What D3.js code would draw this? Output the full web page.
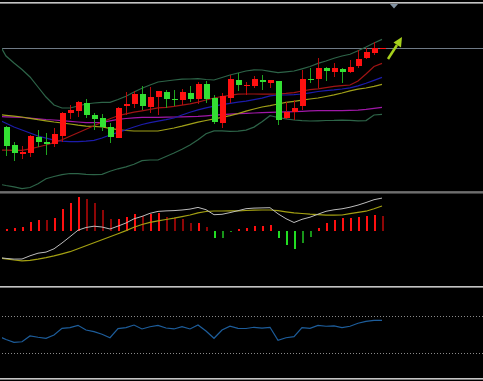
<!DOCTYPE html>
<html><head><meta charset="utf-8">
<script src="https://cdn.jsdelivr.net/npm/d3@7"></script>
<style>html,body{margin:0;padding:0;background:#000;overflow:hidden}</style>
</head><body><svg id="c" width="483" height="381"></svg>
<script>
// ---- price candles (48 bars) ----
const opens  = [73.3,54.7,46.5,47.3,63.3,58.5,55.7,64.5,87.3,89.3,97,85.3,81.7,73.3,62.5,94.5,95.7,105.8,92.8,103.2,107.7,101.3,99.8,107.3,101.2,115.7,101.7,77.3,101.7,120,114,114,120,117.3,118.8,82.2,87.7,94,121.2,120.7,132.5,128.3,131.5,128.2,134.5,142.5,147.3,151.4];
const highs  = [74.5,58.5,54,65,70,66.7,72,88.5,95,99.5,101.5,87.5,86,77.5,93,108.3,109,114,113,109.5,110.5,110.5,110.8,113.7,118,118.7,105,106.7,125,127,118.3,124.2,125.5,120.5,119.5,98.3,99.7,130,131.7,141.7,133,136.7,132.5,140.3,150,151.7,158.3,152.2];
const lows   = [44.5,39.3,40.7,43,53.3,45,53,58,81.2,83.3,81.7,70,69,56.7,62,85,91.7,90,87,85,91.7,94,95,98.3,96,97,76.3,72.5,97.3,109.3,105.3,112.2,110,112.5,75,81,80.3,90,117,111.7,119.5,123.3,117.5,127.5,132.5,141,145,151.4];
const closes = [54.5,46.7,48.3,64,58.2,55.7,66,87.5,90.3,98.2,85,81.5,73,63,92.3,96,106.5,94,103.3,108.8,101.2,100,108.3,101.3,115.7,101,78.2,104,120.8,114.7,114.7,120.7,117.8,120,80.3,88.3,92.3,121.3,120,132,128.7,131.7,127.7,133.3,140.8,147.6,152.5,152.2];

// ---- overlay lines (49 values: one bar before the first visible candle, then 48) ----
const bbUpper = [158,144,137,130.5,123,113,103,95,92,92,94,96,97,97.7,97.7,100.5,103.7,108,111.7,115,118,119,120,120.8,121,121.3,120.5,120,122.5,125,127,129,130.2,130,128.7,127.4,128.2,129,131.2,133.5,136.6,139,141.8,144,145.7,149.3,153,157,160.6];
const bbLower = [16,14.5,13.2,11.3,12.5,16.2,21.3,23.5,25.3,26.5,26.3,25.7,25.3,25.7,28.7,31.2,33.1,35.8,39.4,40,40,43.5,47,50.8,55,60.2,66.2,69.1,69.2,68.6,68.9,69.9,72.9,78.3,84.3,82.5,81.2,80,79.3,79,79.2,79.5,79.6,79.9,79.6,79.2,79.4,85,85.7];
const bbMiddle = [80.5,76.8,73,70,67,64,61.8,59.9,58.9,58.3,58.3,58.9,59.7,62,65,67.6,70.2,73,75.5,77.3,78.8,80.3,82,85,87.7,90.1,92.2,93.8,95.3,96.7,97.9,98.9,100.3,101.8,104.1,105,105,105.4,106,107.2,108.5,109.4,110.1,111,112.2,114.1,116.7,119.6,122.6];
const maFast = [50,49.9,49.6,49.6,51.1,53,55,57.4,60.2,63.7,67.3,70.8,74.3,77.9,81.2,84.3,86.2,87.8,89.2,90.6,92.1,92.7,93.6,94.9,96.2,97.9,100,102,103.5,104.7,105.8,106,106,105.8,105.8,106,106.6,107.4,109,110.3,111.2,112.4,113.6,114.4,115,119,126,133.5,136.6];
const maSlow = [85.5,84.7,83.9,83,81.6,80.3,79.2,78,77,76,74.8,73.9,73.6,73,71.7,70.3,69.5,69,69,69,69,70.5,72,73.8,75.8,77.8,79.5,81.1,82.7,84.3,86.4,88.8,91,93,94.4,96,97.6,98.7,99.8,101,102,103.5,105.1,107,109.1,110.8,112,113.7,115.6];
const maLong = [83.5,83.2,82.9,82.5,81.8,81.2,80.5,80,79.4,78.7,78,77.4,77.3,77.7,79.2,80.7,81.5,82.2,82.7,82.7,82.7,82.8,83,83.1,83.3,83.6,84.2,84.8,85.4,85.8,86.3,86.6,87,87.4,87.6,87.9,88.1,88.3,88.7,89.1,89.4,89.4,89.3,89.4,89.6,89.9,90.6,91.6,92.7];

// ---- MACD panel ----
const macdHist = [1.7,2.4,3.4,8.7,10.7,10.4,12.7,21.4,27.4,33.4,31.4,27.4,20.7,11.4,12,13.4,16.7,14.7,16.7,18,14,12.7,11.4,7.4,8,4,-7.6,-7,-1,1.7,3,4.5,4.8,6,-7.6,-14.3,-18.6,-12,-6,2.4,7.4,10.7,12.4,13,14,15,15.7,15];
const macdMain = [-26.8,-27.7,-28.4,-28.3,-25.1,-22.5,-21.4,-18.1,-12.3,-6,0.5,3.2,4.5,3.7,1.7,4.6,7.7,11.9,14.3,17.4,19.3,19.8,20.1,20.7,21.6,23.3,21,16,16.4,18.1,20,22,22.6,22.8,23,16.9,12,8.2,11.4,13.5,16.5,19.4,20.9,21.9,23.5,25.6,28.2,31,32.6];
const macdSignal = [-27.3,-28.1,-29.3,-30.2,-29.6,-28.4,-26.9,-25.2,-23.1,-21,-18,-15,-12,-9,-6,-3,0.1,3.5,6.2,8.4,9.8,11.2,12.5,14.1,15.7,17.9,19.2,19.7,19.7,19.8,19.9,20.2,20.5,20.7,20.7,20.1,18.9,17.8,17.2,16.5,16,15.5,15.6,15.7,17.1,18.4,19.5,21.9,24.7];

// ---- RSI panel ----
const rsiValues = [48.6,44.8,41.8,42.4,48.6,47.2,46.1,49.6,56.8,57.5,60,55,53.2,50.4,46.7,56.4,57.5,60.3,56.1,58.5,60,57.1,56.1,58.5,56.1,60.3,53.9,46.1,55,59,56.8,56.6,57.9,57.1,57.9,43.9,46.7,47.8,57.5,56.8,60,59,59.3,57.5,59,62.2,64.3,65.4,65.4];
const rsiLevels = [70, 30];

const W = 483, H = 381;
const svg = d3.select("#c");
svg.append("rect").attr("width", W).attr("height", H).attr("fill", "#000");

const x  = d3.scaleLinear().domain([0, 47]).range([6, 382]);
const yP = d3.scaleLinear().domain([0, 200]).range([200, 0]);
const yM = d3.scaleLinear().domain([-55, 37]).range([285.7, 193.7]);
const yR = d3.scaleLinear().domain([0, 100]).range([381.3, 288]);

const defs = svg.append("defs");
function clip(id, y0, y1) {
  defs.append("clipPath").attr("id", id).append("rect")
    .attr("x", 2).attr("y", y0).attr("width", W - 2).attr("height", y1 - y0);
  return svg.append("g").attr("clip-path", `url(#${id})`);
}
const gMain = clip("cm", 4, 191);
const gMacd = clip("cd", 194, 286);
const gRsi  = clip("cr", 288, 378);

// ---- main panel ----
const lastClose = closes[closes.length - 1];
gMain.append("line").attr("x1", 0).attr("x2", W)
  .attr("y1", Math.round(yP(lastClose)) + 0.5).attr("y2", Math.round(yP(lastClose)) + 0.5)
  .attr("stroke", "#6f7a86").attr("stroke-width", 1);

const lineP = d3.line().x((d, i) => x(i - 1)).y(d => yP(d));
const overlays = [
  [bbUpper, "#2d6448"], [bbLower, "#2d6448"],
  [maLong, "#a018a8"], [maSlow, "#a0a018"], [bbMiddle, "#1c1caa"], [maFast, "#a01414"]
];
overlays.forEach(([data, col]) => {
  gMain.append("path").datum(data).attr("d", lineP)
    .attr("fill", "none").attr("stroke", col).attr("stroke-width", 1.2);
});

const candles = opens.map((o, i) => ({ i, o, h: highs[i], l: lows[i], c: closes[i] }));
const cg = gMain.append("g").attr("shape-rendering", "crispEdges");
cg.selectAll("rect.wick").data(candles).join("rect")
  .attr("class", "wick")
  .attr("x", d => Math.round(x(d.i)))
  .attr("width", 1)
  .attr("y", d => yP(d.h))
  .attr("height", d => yP(d.l) - yP(d.h))
  .attr("fill", d => d.c >= d.o ? "#b80a0a" : "#1fa51f");
cg.selectAll("rect.body").data(candles).join("rect")
  .attr("class", "body")
  .attr("x", d => Math.round(x(d.i)) - 2.5)
  .attr("width", 6)
  .attr("y", d => yP(Math.max(d.o, d.c)))
  .attr("height", d => Math.max(1, Math.abs(yP(d.o) - yP(d.c))))
  .attr("fill", d => d.c >= d.o ? "#ff1111" : "#33e033");

// arrow annotation
svg.append("line").attr("x1", 388).attr("y1", 59).attr("x2", 397).attr("y2", 45)
  .attr("stroke", "#a6d01c").attr("stroke-width", 2.5);
svg.append("path").attr("d", "M402,37 L393.5,42.5 L401,47.5 Z").attr("fill", "#a6d01c");

// top marker triangle
svg.append("path").attr("d", "M390,4 L398,4 L394,8.5 Z").attr("fill", "#8393a3");

// ---- MACD panel ----
gMacd.append("g").attr("shape-rendering", "crispEdges")
  .selectAll("rect").data(macdHist).join("rect")
  .attr("x", (d, i) => Math.round(x(i)) - 0.5)
  .attr("width", 2)
  .attr("y", d => yM(Math.max(0, d)))
  .attr("height", d => Math.max(1, Math.abs(yM(d) - yM(0))))
  .attr("fill", (d, i) => {
    const prev = i > 0 ? macdHist[i - 1] : 0;
    if (d >= 0) return (d >= prev || prev < 0) ? "#ff1010" : "#8e0606";
    return (d <= prev || prev > 0) ? "#22dd22" : "#18951a";
  });
const lineM = d3.line().x((d, i) => x(i - 1)).y(d => yM(d));
gMacd.append("path").datum(macdSignal).attr("d", lineM)
  .attr("fill", "none").attr("stroke", "#a3a012").attr("stroke-width", 1.2);
gMacd.append("path").datum(macdMain).attr("d", lineM)
  .attr("fill", "none").attr("stroke", "#bcbcbc").attr("stroke-width", 1);

// ---- RSI panel ----
gRsi.selectAll("line.lvl").data(rsiLevels).join("line")
  .attr("class", "lvl")
  .attr("x1", 2).attr("x2", W)
  .attr("y1", d => Math.round(yR(d)) + 0.5).attr("y2", d => Math.round(yR(d)) + 0.5)
  .attr("stroke", "#8a8a8a").attr("stroke-dasharray", "1,2");
gRsi.append("path").datum(rsiValues)
  .attr("d", d3.line().x((d, i) => x(i - 1)).y(d => yR(d)))
  .attr("fill", "none").attr("stroke", "#1d5d9b").attr("stroke-width", 1.2);

// ---- panel separators ----
[2, 191.5, 286, 378].forEach(yy => {
  svg.append("rect").attr("x", 0).attr("y", yy).attr("width", W).attr("height", 1).attr("fill", "#c4c4c4");
  svg.append("rect").attr("x", 0).attr("y", yy + 1).attr("width", W).attr("height", 1).attr("fill", "#7a7a7a");
});
</script></body></html>
